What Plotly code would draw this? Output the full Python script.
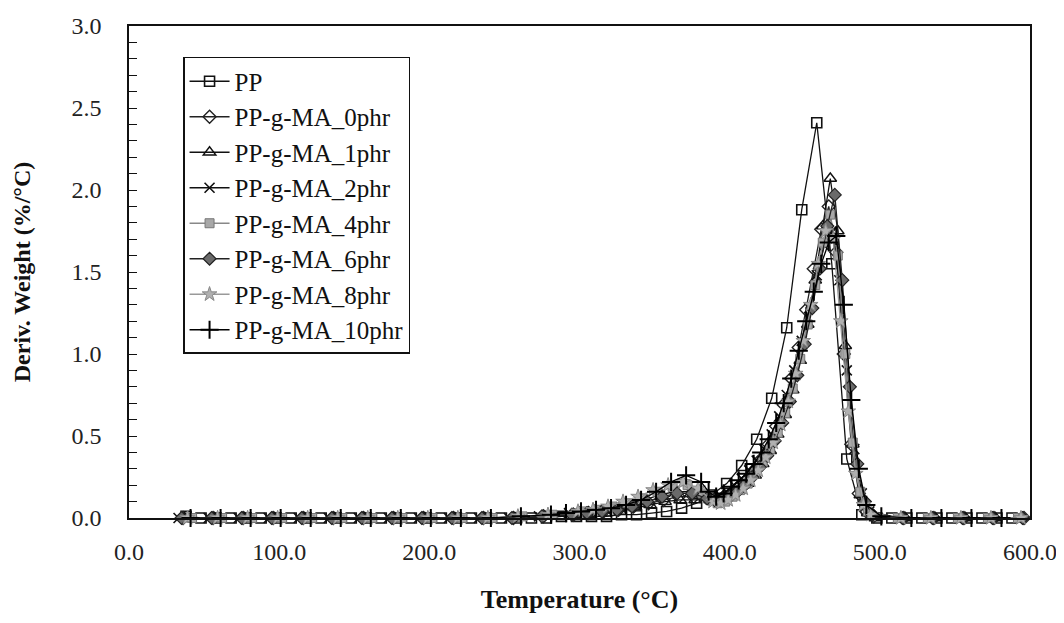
import plotly.graph_objects as go

# ---------------- data ----------------
T_PP = [38, 48, 58, 68, 78, 88, 98, 108, 118, 128, 138, 148, 158, 168, 178, 188, 198, 208,
        218, 228, 238, 248, 258, 268, 278, 288, 298, 308, 318, 328, 338, 348, 358, 368, 378,
        388, 398, 408, 418, 428, 438, 448, 458, 468, 478, 488, 498, 508, 518, 528, 538, 548,
        558, 568, 578, 588]
Y_PP = [0.01, 0.00, 0.00, 0.00, 0.00, 0.00, 0.00, 0.00, 0.00, 0.00, 0.00, 0.00, 0.00, 0.00,
        0.00, 0.00, 0.00, 0.00, 0.00, 0.00, 0.00, 0.00, 0.00, 0.00, 0.00, 0.01, 0.01, 0.01,
        0.01, 0.02, 0.02, 0.03, 0.04, 0.06, 0.09, 0.14, 0.21, 0.32, 0.48, 0.73, 1.16, 1.88,
        2.41, 1.55, 0.36, 0.02, 0.00, 0.00, 0.00, 0.00, 0.00, 0.00, 0.00, 0.00, 0.00, 0.00]

T_0 = [36, 56, 76, 96, 116, 136, 156, 176, 196, 216, 236, 256, 276, 296,
       306, 316, 326, 336, 346, 356, 366, 376, 386,
       391, 396, 401, 406, 411, 416, 421, 426, 431, 436, 441, 446, 451, 456, 461, 466, 471,
       476, 481, 486, 491, 496, 516, 536, 556, 576, 596]
Y_0 = [0.0, 0.0, 0.0, 0.0, 0.0, 0.0, 0.0, 0.0, 0.0, 0.0, 0.0, 0.0, 0.01, 0.02,
       0.03, 0.04, 0.05, 0.07, 0.09, 0.11, 0.13, 0.13, 0.12,
       0.12, 0.13, 0.15, 0.19, 0.23, 0.29, 0.36, 0.45, 0.56, 0.69, 0.85, 1.04, 1.27, 1.52,
       1.76, 1.90, 1.62, 1.00, 0.45, 0.15, 0.04, 0.01, 0.0, 0.0, 0.0, 0.0, 0.0]

T_1 = [37, 57, 77, 97, 117, 137, 157, 177, 197, 217, 237, 257, 277, 297,
       307, 317, 327, 337, 347, 357, 367, 377, 387,
       392, 397, 402, 407, 412, 417, 422, 427, 432, 437, 442, 447, 452, 457, 462, 467, 472,
       477, 482, 487, 492, 497, 517, 537, 557, 577]
Y_1 = [0.0, 0.0, 0.0, 0.0, 0.0, 0.0, 0.0, 0.0, 0.0, 0.0, 0.0, 0.0, 0.01, 0.02,
       0.02, 0.03, 0.04, 0.06, 0.08, 0.10, 0.11, 0.11, 0.11,
       0.11, 0.12, 0.14, 0.17, 0.21, 0.26, 0.33, 0.41, 0.51, 0.63, 0.78, 0.96, 1.18, 1.45,
       1.78, 2.07, 1.75, 1.05, 0.45, 0.14, 0.03, 0.0, 0.0, 0.0, 0.0, 0.0]

T_2 = [33, 53, 73, 93, 113, 133, 153, 173, 193, 213, 233, 253, 273, 293,
       303, 313, 323, 333, 343, 353, 363, 373, 383,
       388, 393, 398, 403, 408, 413, 418, 423, 428, 433, 438, 443, 448, 453, 458, 463, 468,
       473, 478, 483, 488, 493, 513, 533, 553, 573, 593]
Y_2 = [0.0, 0.0, 0.0, 0.0, 0.0, 0.0, 0.0, 0.0, 0.0, 0.0, 0.0, 0.0, 0.01, 0.03,
       0.04, 0.05, 0.06, 0.08, 0.11, 0.14, 0.16, 0.16, 0.14,
       0.13, 0.14, 0.16, 0.20, 0.24, 0.29, 0.35, 0.42, 0.51, 0.62, 0.75, 0.90, 1.08, 1.28,
       1.48, 1.66, 1.75, 1.45, 0.90, 0.42, 0.15, 0.04, 0.0, 0.0, 0.0, 0.0, 0.0]

T_4 = [42, 62, 82, 102, 122, 142, 162, 182, 202, 222, 242, 262, 282, 302,
       312, 322, 332, 342, 352, 362, 372, 382,
       387, 392, 397, 402, 407, 412, 417, 422, 427, 432, 437, 442, 447, 452, 457, 462, 467,
       472, 477, 482, 487, 492, 512, 532, 552, 572, 592]
Y_4 = [0.0, 0.0, 0.0, 0.0, 0.0, 0.0, 0.0, 0.0, 0.0, 0.0, 0.0, 0.01, 0.02, 0.04,
       0.05, 0.07, 0.09, 0.12, 0.16, 0.19, 0.20, 0.15,
       0.11, 0.09, 0.10, 0.13, 0.17, 0.21, 0.27, 0.34, 0.42, 0.52, 0.64, 0.79, 0.97, 1.18,
       1.42, 1.68, 1.85, 1.60, 1.00, 0.46, 0.16, 0.04, 0.0, 0.0, 0.0, 0.0, 0.0]

T_6 = [35, 55, 75, 95, 115, 135, 155, 175, 195, 215, 235, 255, 275, 295,
       305, 315, 325, 335, 345, 355, 365, 375, 385,
       390, 395, 400, 405, 410, 415, 420, 425, 430, 435, 440, 445, 450, 455, 460, 465, 470,
       475, 480, 485, 490, 495, 515, 535, 555, 575, 595]
Y_6 = [0.0, 0.0, 0.0, 0.0, 0.0, 0.0, 0.0, 0.0, 0.0, 0.0, 0.0, 0.0, 0.01, 0.02,
       0.03, 0.04, 0.05, 0.07, 0.10, 0.13, 0.15, 0.15, 0.12,
       0.11, 0.11, 0.13, 0.16, 0.20, 0.25, 0.31, 0.38, 0.47, 0.58, 0.71, 0.87, 1.06, 1.28,
       1.52, 1.78, 1.97, 1.45, 0.80, 0.33, 0.10, 0.02, 0.0, 0.0, 0.0, 0.0, 0.0]

T_8 = [39, 59, 79, 99, 119, 139, 159, 179, 199, 219, 239, 259, 279, 299,
       309, 319, 329, 339, 349, 359, 369, 379, 389,
       394, 399, 404, 409, 414, 419, 424, 429, 434, 439, 444, 449, 454, 459, 464, 469,
       474, 479, 484, 489, 494, 514, 534, 554, 574, 594]
Y_8 = [0.0, 0.0, 0.0, 0.0, 0.0, 0.0, 0.0, 0.0, 0.0, 0.0, 0.0, 0.01, 0.02, 0.04,
       0.05, 0.07, 0.10, 0.13, 0.17, 0.20, 0.22, 0.18, 0.10,
       0.09, 0.11, 0.14, 0.18, 0.23, 0.29, 0.37, 0.46, 0.57, 0.71, 0.88, 1.08, 1.30, 1.55,
       1.75, 1.70, 1.20, 0.65, 0.27, 0.08, 0.02, 0.0, 0.0, 0.0, 0.0, 0.0]

T_10 = [41, 61, 81, 101, 121, 141, 161, 181, 201, 221, 241, 261, 281,
        291, 301, 311, 321, 331, 341, 351, 361, 371, 381,
        386, 391, 396, 401, 406, 411, 416, 421, 426, 431, 436, 441, 446, 451, 456, 461, 466,
        471, 476, 481, 486, 491, 501, 521, 541, 561, 581]
Y_10 = [0.0, 0.0, 0.0, 0.0, 0.0, 0.0, 0.0, 0.0, 0.0, 0.0, 0.0, 0.01, 0.02,
        0.03, 0.04, 0.05, 0.06, 0.08, 0.11, 0.16, 0.22, 0.26, 0.22,
        0.16, 0.13, 0.15, 0.19, 0.23, 0.27, 0.33, 0.40, 0.48, 0.58, 0.70, 0.85, 1.02, 1.20,
        1.38, 1.55, 1.68, 1.72, 1.30, 0.72, 0.30, 0.08, 0.01, 0.0, 0.0, 0.0, 0.0]

NAMES = ["PP", "PP-g-MA_0phr", "PP-g-MA_1phr", "PP-g-MA_2phr", "PP-g-MA_4phr",
         "PP-g-MA_6phr", "PP-g-MA_8phr", "PP-g-MA_10phr"]
X_TICKS = [0, 100, 200, 300, 400, 500, 600]
X_TICKTEXT = ["0.0", "100.0", "200.0", "300.0", "400.0", "500.0", "600.0"]
Y_TICKS = [0, 0.5, 1.0, 1.5, 2.0, 2.5, 3.0]
Y_TICKTEXT = ["0.0", "0.5", "1.0", "1.5", "2.0", "2.5", "3.0"]

# ---------------- styles ----------------
SERIES = [
    (T_PP, Y_PP, dict(symbol="square-open", size=10, color="#111", line=dict(width=1.6, color="#111")), "#111"),
    (T_0, Y_0, dict(symbol="diamond-open", size=10, color="#222", line=dict(width=1.4, color="#222")), "#222"),
    (T_1, Y_1, dict(symbol="triangle-up-open", size=11, color="#111", line=dict(width=1.4, color="#111")), "#111"),
    (T_2, Y_2, dict(symbol="x-thin-open", size=10, color="#111", line=dict(width=1.6, color="#111")), "#111"),
    (T_4, Y_4, dict(symbol="square", size=9, color="#a8a8a8", line=dict(width=1, color="#777")), "#888"),
    (T_6, Y_6, dict(symbol="diamond", size=10, color="#6a6a6a", line=dict(width=1.2, color="#222")), "#222"),
    (T_8, Y_8, dict(symbol="star", size=11, color="#b0b0b0", line=dict(width=1, color="#888")), "#999"),
    (T_10, Y_10, dict(symbol="cross-thin-open", size=13, color="#000", line=dict(width=2, color="#000")), "#000"),
]

fig = go.Figure()
for i, (tx, ty, mk, lc) in enumerate(SERIES):
    fig.add_trace(go.Scatter(
        x=tx, y=ty, name=NAMES[i], mode="lines+markers",
        line=dict(color=lc, width=1.3), marker=mk,
        cliponaxis=False, legendgroup=f"g{i}",
    ))

FONT = "Liberation Serif, Times New Roman, serif"

fig.update_layout(
    width=1064, height=623,
    margin=dict(l=121, r=42, t=18, b=113),
    paper_bgcolor="white", plot_bgcolor="white",
    font=dict(family=FONT, color="#111"),
    showlegend=True,
    legend=dict(
        x=0.06, y=0.937, xanchor="left", yanchor="top",
        bgcolor="white", bordercolor="#111", borderwidth=1.5,
        font=dict(family=FONT, size=25, color="#111"),
        tracegroupgap=0, itemwidth=40,
    ),
    xaxis=dict(
        range=[0, 600], tickvals=X_TICKS, ticktext=X_TICKTEXT,
        showgrid=False, zeroline=False, automargin=False,
        showline=True, linecolor="#111", linewidth=1.6, mirror=True,
        ticks="", ticklabelstandoff=11,
        tickfont=dict(family=FONT, size=24, color="#222"),
        title=dict(text="<b>Temperature (°C)</b>", standoff=26,
                   font=dict(family=FONT, size=26, color="#111")),
    ),
    yaxis=dict(
        range=[0, 3.0], tickvals=Y_TICKS, ticktext=Y_TICKTEXT,
        showgrid=False, zeroline=False, automargin=False,
        showline=True, linecolor="#111", linewidth=1.6, mirror=True,
        ticks="inside", ticklen=8, tickwidth=1.3, tickcolor="#111",
        ticklabelstandoff=21,
        minor=dict(dtick=0.1, ticks="inside", ticklen=8, tickwidth=1.2, tickcolor="#111", showgrid=False),
        tickfont=dict(family=FONT, size=24, color="#222"),
        title=dict(text="<b>Deriv. Weight (%/°C)</b>", standoff=34,
                   font=dict(family=FONT, size=24, color="#111")),
    ),
)

fig.write_html("out.html")
